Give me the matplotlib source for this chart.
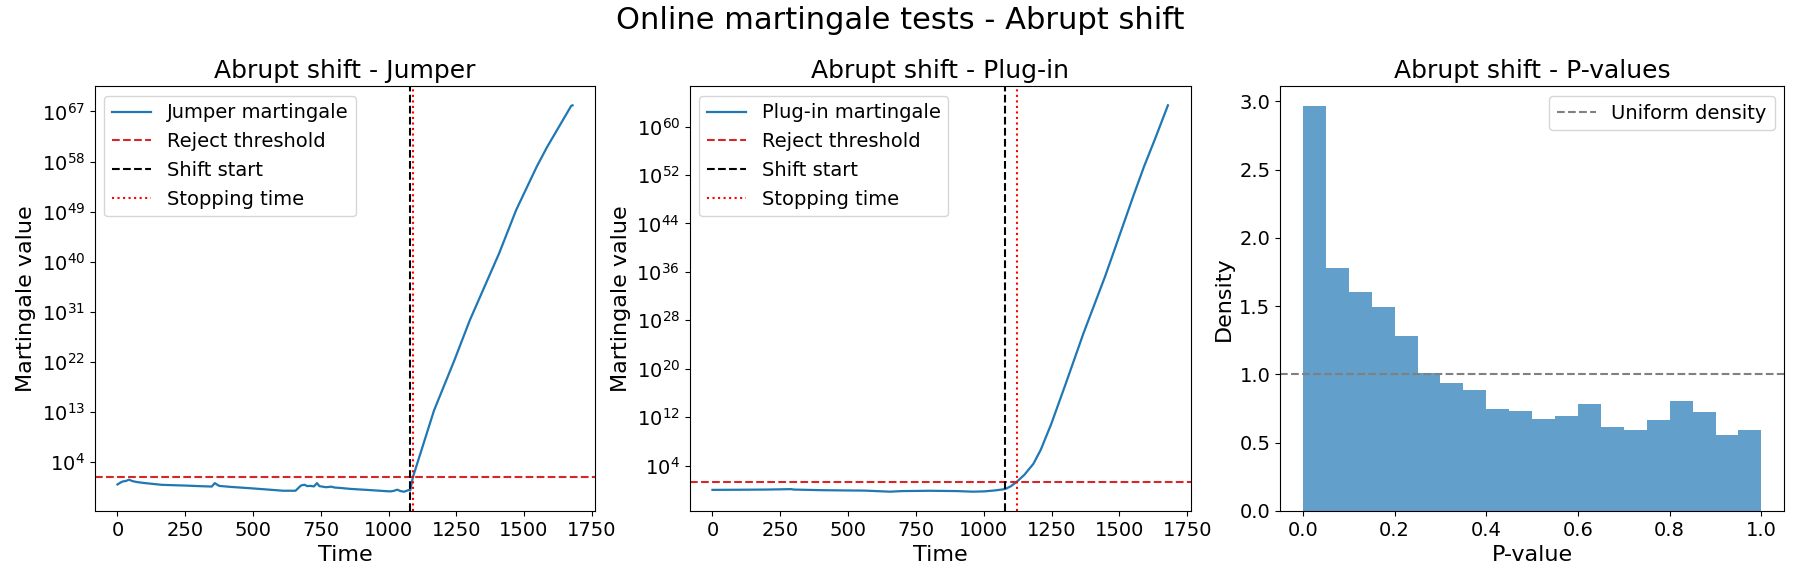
import numpy as np
import matplotlib
matplotlib.use("Agg")
import matplotlib.pyplot as plt

# ---------------- data ----------------
jumper_t = [0, 10, 20, 30, 43, 55, 72, 100, 164, 250, 300, 348, 359, 375, 420,
            493, 550, 611, 657, 677, 690, 700, 710, 725, 736, 745, 769, 790,
            800, 822, 860, 927, 1006, 1020, 1032, 1045, 1058, 1075, 1080,
            1090, 1129, 1168, 1243, 1300, 1408, 1471, 1547, 1585, 1674, 1679]
jumper_log10 = [0.0, 0.3, 0.55, 0.6, 0.86, 0.6, 0.43, 0.25, -0.07, -0.2, -0.3,
                -0.38, 0.24, -0.26, -0.45, -0.69, -0.9, -1.13, -1.13, -0.19,
                -0.05, -0.3, -0.26, -0.35, 0.24, -0.3, -0.5, -0.4, -0.55,
                -0.63, -0.8, -1.0, -1.25, -1.15, -0.94, -1.2, -1.3, -1.0,
                -1.1, 1.3, 7.3, 13.3, 22.3, 29.5, 41.5, 49.3, 57.1, 60.6,
                68.0, 68.1]

plugin_t = [0, 100, 200, 290, 300, 400, 500, 560, 654, 700, 800, 900, 960,
            1002, 1040, 1074, 1080, 1100, 1121, 1150, 1183, 1210, 1249, 1302,
            1368, 1447, 1473, 1552, 1591, 1631, 1679]
plugin_log10 = [0.0, 0.02, 0.05, 0.12, 0.05, -0.05, -0.1, -0.12, -0.3, -0.2,
                -0.15, -0.2, -0.3, -0.25, -0.1, 0.1, 0.15, 0.6, 1.3, 2.5, 4.3,
                6.6, 10.9, 17.5, 25.9, 35.2, 38.5, 48.6, 53.4, 57.9, 63.5]

reject_threshold = 20.0
shift_start = 1080
jumper_stop = 1090
plugin_stop = 1121

pval_edges = [i * 0.05 for i in range(21)]
pval_density = [2.964, 1.779, 1.603, 1.493, 1.280, 1.011, 0.936, 0.884, 0.745,
                0.730, 0.672, 0.694, 0.782, 0.613, 0.591, 0.665, 0.804, 0.723,
                0.555, 0.591]

jumper_yticks_exp = [4, 13, 22, 31, 40, 49, 58, 67]
plugin_yticks_exp = [4, 12, 20, 28, 36, 44, 52, 60]

# ---------------- figure ----------------
W, H = 1800, 580
fig = plt.figure(figsize=(18, 5.8), dpi=100)

def frac(x0, x1, y0, y1):
    return [x0 / W, 1 - y1 / H, (x1 - x0) / W, (y1 - y0) / H]

ax1 = fig.add_axes(frac(94.7, 595.3, 86, 511))
ax2 = fig.add_axes(frac(689.7, 1190.7, 86, 511))
ax3 = fig.add_axes(frac(1280, 1784.3, 86, 511))

TICK = 14
LAB = 16
TIT = 18

def mart_panel(ax, t, lg, name, stop, ticks_exp, title):
    ax.plot(t, 10.0 ** np.array(lg), color="C0", lw=1.6, label=f"{name} martingale")
    ax.axhline(reject_threshold, color="tab:red", ls="--", lw=1.5, label="Reject threshold")
    ax.axvline(shift_start, color="k", ls="--", lw=1.5, label="Shift start")
    ax.axvline(stop, color="red", ls=":", lw=1.5, label="Stopping time")
    ax.set_yscale("log")
    ax.set_yticks([10.0 ** e for e in ticks_exp])
    ax.minorticks_off()
    ax.set_xticks([0, 250, 500, 750, 1000, 1250, 1500, 1750])
    ax.set_title(title, fontsize=TIT)
    ax.set_xlabel("Time", fontsize=LAB)
    ax.set_ylabel("Martingale value", fontsize=LAB)
    ax.tick_params(labelsize=TICK)
    ax.legend(loc="upper left", fontsize=14)

mart_panel(ax1, jumper_t, jumper_log10, "Jumper", jumper_stop, jumper_yticks_exp,
           "Abrupt shift - Jumper")
mart_panel(ax2, plugin_t, plugin_log10, "Plug-in", plugin_stop, plugin_yticks_exp,
           "Abrupt shift - Plug-in")

ax3.bar(pval_edges[:-1], pval_density, width=0.05, align="edge",
        color="C0", alpha=0.7, linewidth=0)
ax3.axhline(1.0, color="gray", ls="--", lw=1.5, label="Uniform density")
ax3.set_title("Abrupt shift - P-values", fontsize=TIT)
ax3.set_xlabel("P-value", fontsize=LAB)
ax3.set_ylabel("Density", fontsize=LAB)
ax3.tick_params(labelsize=TICK)
ax3.legend(loc="upper right", fontsize=14)

fig.suptitle("Online martingale tests - Abrupt shift", fontsize=22, y=0.99)

fig.savefig("out.png", dpi=100)
